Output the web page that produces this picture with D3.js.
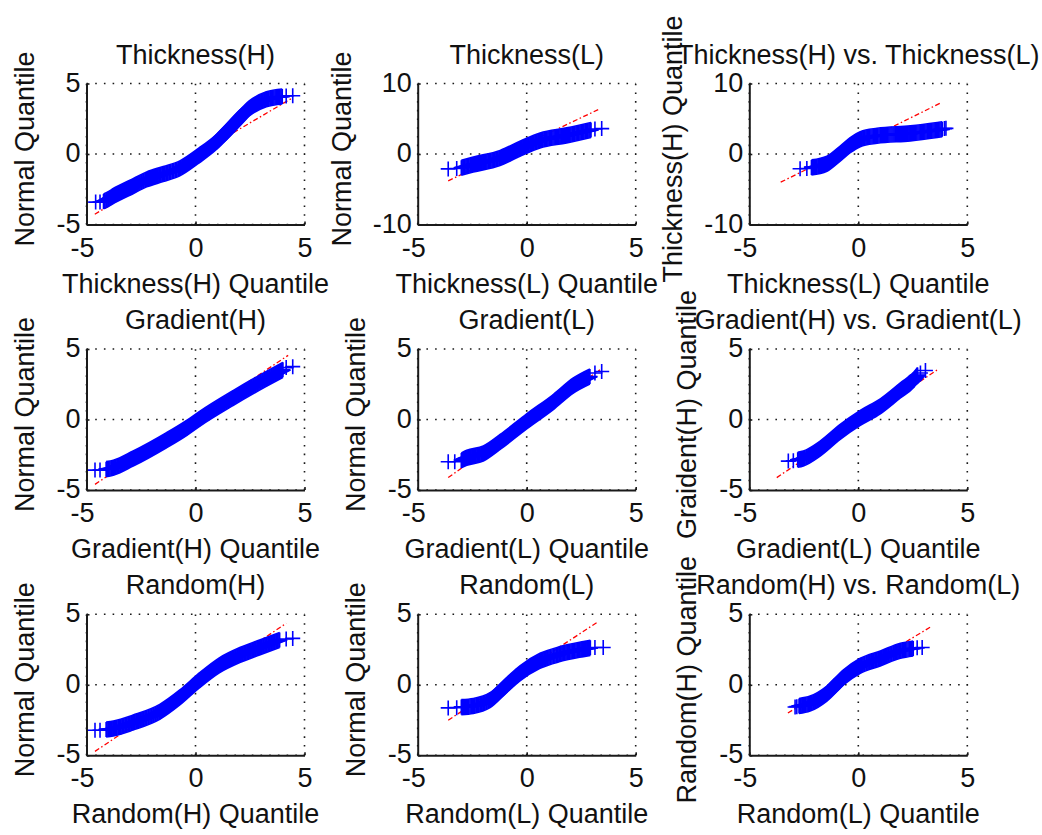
<!DOCTYPE html>
<html>
<head>
<meta charset="utf-8">
<script src="https://cdn.jsdelivr.net/npm/d3@7"></script>
<style>
  body { margin: 0; background: #fff; }
  svg { display: block; }
  text { font-family: "Liberation Sans", Arial, Helvetica, sans-serif; fill: #111; }
</style>
</head>
<body>
<svg id="fig" width="1042" height="835"></svg>
<script>
// ---- Panel text ----
const titles = [
  "Thickness(H)", "Thickness(L)", "Thickness(H) vs. Thickness(L)",
  "Gradient(H)", "Gradient(L)", "Gradient(H) vs. Gradient(L)",
  "Random(H)", "Random(L)", "Random(H) vs. Random(L)"
];
const xLabels = [
  "Thickness(H) Quantile", "Thickness(L) Quantile", "Thickness(L) Quantile",
  "Gradient(H) Quantile", "Gradient(L) Quantile", "Gradient(L) Quantile",
  "Random(H) Quantile", "Random(L) Quantile", "Random(L) Quantile"
];
const yLabels = [
  "Normal Quantile", "Normal Quantile", "Thickness(H) Quantile",
  "Normal Quantile", "Normal Quantile", "Graident(H) Quantile",
  "Normal Quantile", "Normal Quantile", "Random(H) Quantile"
];
const yLimits = [5, 10, 10, 5, 5, 5, 5, 5, 5];
const xTickValues = [-5, 0, 5];

// ---- Quantile pairs (x: horizontal quantile, y: vertical quantile) ----
// The first two and last two entries of each list are the sparse extreme quantiles.
const thickHX = [-4.58, -4.38, -4.22, -4.0, -3.77, -3.01, -2.24, -1.48, -0.72, 0.15, 0.96, 1.72, 2.48, 3.25, 3.98, 4.16, 4.46];
const thickHY = [-3.41, -3.41, -3.36, -3.2, -2.98, -2.39, -1.80, -1.42, -1.02, -0.12, 0.85, 2.05, 3.25, 3.88, 4.08, 4.12, 4.13];
const thickLX = [-3.60, -3.21, -3.0, -2.45, -1.22, -0.31, 0.61, 1.83, 2.95, 3.13, 3.44];
const thickLY = [-2.11, -2.05, -1.95, -1.5, -0.55, 0.74, 1.93, 2.64, 3.4, 3.55, 3.6];
const thickHLX = [-2.67, -2.36, -2.15, -1.44, -0.83, -0.37, 0.09, 0.86, 2.39, 3.62, 3.85, 3.95, 4.02];
const thickHLY = [-2.1, -2.05, -1.9, -1.38, 0.06, 1.25, 2.1, 2.58, 2.93, 3.4, 3.5, 3.6, 3.64];
const gradHX = [-4.61, -4.38, -4.1, -3.77, -2.86, -1.33, -0.41, 0.19, 1.72, 3.25, 4.01, 4.16, 4.46];
const gradHY = [-3.59, -3.59, -3.52, -3.42, -2.77, -1.47, -0.6, 0.05, 1.52, 2.88, 3.52, 3.68, 3.75];
const gradLX = [-3.60, -3.30, -3.0, -2.75, -1.99, -1.22, 0.0, 1.22, 2.14, 2.9, 3.13, 3.44];
const gradLY = [-3.0, -3.0, -2.9, -2.72, -2.41, -1.59, -0.13, 1.24, 2.41, 3.05, 3.3, 3.4];
const gradHLX = [-3.21, -2.98, -2.78, -2.52, -1.75, -0.83, 0.09, 1.01, 1.93, 2.54, 2.72, 2.85, 3.08];
const gradHLY = [-2.95, -2.93, -2.85, -2.76, -2.06, -0.88, 0.11, 0.93, 2.06, 2.81, 3.15, 3.3, 3.47];
const randHX = [-4.61, -4.38, -4.1, -3.77, -2.86, -1.64, -0.72, 0.19, 1.11, 2.03, 2.94, 3.86, 4.16, 4.46];
const randHY = [-3.22, -3.22, -3.17, -3.1, -2.68, -1.92, -0.9, 0.33, 1.4, 2.11, 2.65, 3.17, 3.25, 3.29];
const randLX = [-3.6, -3.21, -3.0, -2.45, -1.68, -0.92, -0.31, 0.61, 1.53, 2.6, 2.92, 3.13, 3.51];
const randLY = [-1.64, -1.62, -1.58, -1.5, -1.09, -0.02, 0.81, 1.7, 2.18, 2.53, 2.62, 2.65, 2.65];
const randHLX = [-2.9, -2.82, -2.72, -2.21, -1.44, -0.68, 0.09, 1.01, 1.93, 2.52, 2.70, 2.93];
const randHLY = [-1.57, -1.55, -1.5, -1.33, -0.62, 0.52, 1.35, 1.87, 2.41, 2.58, 2.62, 2.65];

// ---- Reference lines (end points) ----
const refX = [
  [-4.62, 4.45], [-3.6, 3.35], [-3.56, 3.77],
  [-4.61, 4.25], [-3.6, 3.36], [-3.74, 3.62],
  [-4.61, 4.16], [-3.6, 3.28], [-3.23, 3.39]
];
const refY = [
  [-4.27, 3.98], [-3.8, 6.4], [-4.0, 7.23],
  [-4.6, 4.55], [-4.12, 3.52], [-4.12, 3.52],
  [-4.72, 4.36], [-2.51, 4.48], [-2.0, 4.17]
];

const seriesX = [thickHX, thickLX, thickHLX, gradHX, gradLX, gradHLX, randHX, randLX, randHLX];
const seriesY = [thickHY, thickLY, thickHLY, gradHY, gradLY, gradHLY, randHY, randLY, randHLY];

// ---- Layout ----
const colLeft = [86.5, 417.7, 749.3];
const rowTop = [83.5, 349, 614.3];
const W = 218, H = 141;
const FS = 27;
const ARM = 7.5;           // half length of a "+" marker arm
const SPARSE = 2;          // isolated markers at each end
const BLUE = "#0000ff", RED = "#ff0000", INK = "#1a1a1a";

const svg = d3.select("#fig");

titles.forEach((title, i) => {
  const col = i % 3, row = Math.floor(i / 3);
  const yMax = yLimits[i];
  const x = d3.scaleLinear().domain([-5, 5]).range([0, W]);
  const y = d3.scaleLinear().domain([-yMax, yMax]).range([H, 0]);
  const yTickValues = [-yMax, 0, yMax];

  const g = svg.append("g").attr("transform", `translate(${colLeft[col]},${rowTop[row]})`);

  // dotted grid
  const grid = g.append("g").attr("stroke", INK).attr("stroke-width", 1.6)
    .attr("stroke-dasharray", "1.6,7.1");
  grid.selectAll("line.gx").data(xTickValues).join("line").attr("class", "gx")
    .attr("x1", d => x(d)).attr("x2", d => x(d)).attr("y1", H).attr("y2", 0);
  grid.selectAll("line.gy").data(yTickValues).join("line").attr("class", "gy")
    .attr("y1", d => y(d)).attr("y2", d => y(d)).attr("x1", 0).attr("x2", W);

  // reference line
  const pts = seriesX[i].map((v, k) => [v, seriesY[i][k]]);
  const ref = refX[i].map((v, k) => [v, refY[i][k]]);
  g.append("path").attr("d", d3.line().x(d => x(d[0])).y(d => y(d[1]))(ref))
    .attr("fill", "none").attr("stroke", RED).attr("stroke-width", 1.3)
    .attr("stroke-dasharray", "5,2.5,1.5,2.5");

  // densely packed "+" markers along the central part of the quantile curve
  const dense = pts.slice(SPARSE, pts.length - SPARSE);
  const curveD = d3.line().x(d => x(d[0])).y(d => y(d[1])).curve(d3.curveMonotoneX)(dense);
  const offsets = d3.range(-ARM, ARM + 0.01, 1);
  const band = g.append("g").attr("fill", "none").attr("stroke", BLUE).attr("stroke-width", 1.6);
  offsets.forEach(o => {
    band.append("path").attr("d", curveD).attr("transform", `translate(${o},0)`);
    band.append("path").attr("d", curveD).attr("transform", `translate(0,${o})`);
  });
  // individual markers at every listed quantile pair
  g.append("g").selectAll("path").data(pts).join("path")
    .attr("transform", d => `translate(${x(d[0])},${y(d[1])})`)
    .attr("d", `M${-ARM},0H${ARM}M0,${-ARM}V${ARM}`)
    .attr("fill", "none").attr("stroke", BLUE).attr("stroke-width", 1.6);

  // axes
  const xAxis = d3.axisBottom(x).tickValues(xTickValues).tickSizeInner(-3).tickSizeOuter(0)
    .tickPadding(13).tickFormat(d => String(d));
  const yAxis = d3.axisLeft(y).tickValues(yTickValues).tickSizeInner(-3).tickSizeOuter(0)
    .tickPadding(6).tickFormat(d => String(d));
  const styleAxis = sel => {
    sel.attr("font-size", FS).attr("font-family", null);
    sel.select(".domain").attr("stroke", INK).attr("stroke-width", 2);
    sel.selectAll(".tick line").attr("stroke", INK).attr("stroke-width", 1.6);
    sel.selectAll(".tick text").attr("fill", "#111");
  };
  g.append("g").attr("transform", `translate(0,${H})`).call(xAxis).call(styleAxis)
    .call(s => s.selectAll(".tick text").attr("text-anchor", "end").attr("dx", "0.278em"));
  g.append("g").call(yAxis).call(styleAxis)
    .call(s => s.selectAll(".tick text").attr("dy", "0.28em"));

  // title and axis labels
  g.append("text").attr("x", W / 2).attr("y", -20).attr("text-anchor", "middle")
    .attr("font-size", FS).text(title);
  g.append("text").attr("x", W / 2).attr("y", H + 68).attr("text-anchor", "middle")
    .attr("font-size", FS).text(xLabels[i]);
  const labelX = yMax === 10 ? -67 : -53;
  g.append("text").attr("transform", `translate(${labelX},${H / 2 - 5}) rotate(-90)`)
    .attr("text-anchor", "middle").attr("font-size", FS).text(yLabels[i]);
});
</script>
</body>
</html>
